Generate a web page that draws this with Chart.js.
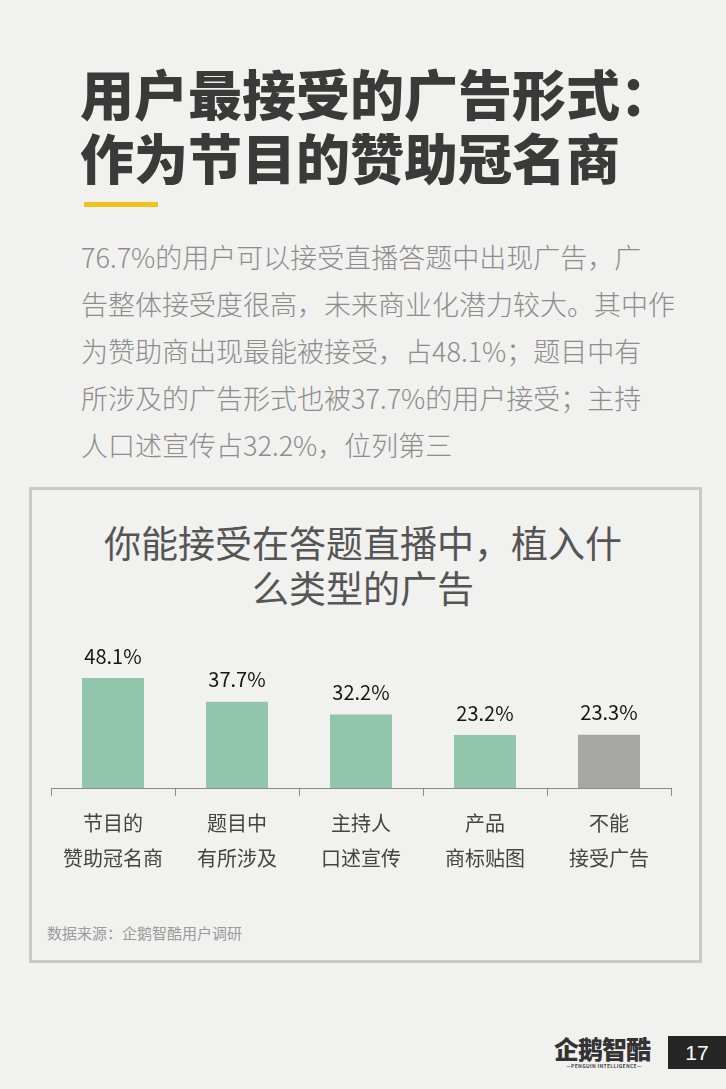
<!DOCTYPE html>
<html>
<head>
<meta charset="utf-8">
<script src="https://cdn.jsdelivr.net/npm/chart.js@4"></script>
<style>
  html, body { margin: 0; padding: 0; }
  body {
    width: 726px; height: 1089px; position: relative; overflow: hidden;
    background: #f1f1ef;
    font-family: "Noto Sans CJK SC", "Noto Sans", sans-serif;
  }
  .title {
    position: absolute; left: 80px; top: 61px;
    font-size: 54px; line-height: 64px; font-weight: 900;
    color: #3a3a3a;
  }
  .bar-accent {
    position: absolute; left: 84px; top: 202px; width: 74px; height: 5px;
    background: #f0c31c;
  }
  .lead {
    position: absolute; left: 81px; top: 233px;
    font-size: 27px; line-height: 47px; font-weight: 300;
    color: #8c8c8c;
  }
  .box {
    position: absolute; left: 29px; top: 487px; width: 667px; height: 470px;
    border: 3px solid #c9c9c7; box-sizing: content-box;
  }
  .box-title {
    position: absolute; left: 0; right: 0; top: 520px; text-align: center;
    font-size: 37px; line-height: 45px; color: #555;
  }
  .source {
    position: absolute; left: 47px; top: 922px;
    font-size: 15px; color: #9a9a9a;
  }
  #wrap { position: absolute; left: 31px; top: 636px; width: 664px; height: 250px; }
  .logo {
    position: absolute; left: 554px; top: 1034px; width: 100px; font-size: 25px; font-weight: 900;
    color: #333; letter-spacing: -1px; line-height: 28px;
  }
  .logo small {
    display: block; font-size: 5px; line-height: 8px; letter-spacing: 0.3px;
    font-weight: 700; text-align: center; color: #444;
  }
  .page {
    position: absolute; left: 668px; top: 1036px; width: 58px; height: 33px;
    background: #262626; color: #fff; font-size: 21px; line-height: 33px; text-align: center;
    font-family: "Liberation Sans", sans-serif;
  }
</style>
</head>
<body>
<div class="title">用户最接受的广告形式：<br>作为节目的赞助冠名商</div>
<div class="bar-accent"></div>
<div class="lead">76.7%的用户可以接受直播答题中出现广告，广<br>告整体接受度很高，未来商业化潜力较大。其中作<br>为赞助商出现最能被接受，占48.1%；题目中有<br>所涉及的广告形式也被37.7%的用户接受；主持<br>人口述宣传占32.2%，位列第三</div>
<div class="box"></div>
<div class="box-title">你能接受在答题直播中，植入什<br>么类型的广告</div>
<div id="wrap"><canvas id="adChart"></canvas></div>
<div class="source">数据来源：企鹅智酷用户调研</div>
<div class="logo">企鹅智酷<small>—PENGUIN INTELLIGENCE—</small></div>
<div class="page">17</div>

<script>
const categories = [
  ['节目的', '赞助冠名商'],
  ['题目中', '有所涉及'],
  ['主持人', '口述宣传'],
  ['产品', '商标贴图'],
  ['不能', '接受广告']
];
const shares = [48.1, 37.7, 32.2, 23.2, 23.3];

const greenBar = '#92c6ac';
const greyBar = '#a6a6a3';
const axisGrey = '#8a8a8a';

// value labels above each bar
const valueLabels = {
  id: 'valueLabels',
  afterDatasetsDraw(chart) {
    const ctx = chart.ctx;
    const meta = chart.getDatasetMeta(0);
    ctx.save();
    ctx.font = '20px "Noto Sans CJK SC", "Noto Sans", sans-serif';
    ctx.fillStyle = '#151515';
    ctx.textAlign = 'center';
    ctx.textBaseline = 'middle';
    meta.data.forEach((bar, i) => {
      ctx.fillText(shares[i].toFixed(1) + '%', bar.x, bar.y - 22);
    });
    ctx.restore();
  }
};

new Chart(document.getElementById('adChart'), {
  type: 'bar',
  data: {
    labels: categories,
    datasets: [{
      data: shares,
      backgroundColor: shares.map((v, i) => i === shares.length - 1 ? greyBar : greenBar),
      barPercentage: 0.5,
      categoryPercentage: 1.0,
      borderWidth: 0
    }]
  },
  options: {
    responsive: true,
    maintainAspectRatio: false,
    animation: false,
    layout: { padding: { left: 20, right: 24, top: 0, bottom: 0 } },
    plugins: {
      legend: { display: false },
      tooltip: { enabled: false }
    },
    scales: {
      y: { display: false, min: 0, max: 66.5 },
      x: {
        grid: {
          display: true,
          drawOnChartArea: false,
          drawTicks: true,
          tickLength: 8,
          color: axisGrey,
          offset: true
        },
        border: { display: true, color: axisGrey, width: 1 },
        ticks: {
          color: '#444',
          padding: 10,
          maxRotation: 0,
          font: { size: 20, lineHeight: 1.75, family: '"Noto Sans CJK SC", sans-serif' }
        }
      }
    }
  },
  plugins: [valueLabels]
});
</script>
</body>
</html>
